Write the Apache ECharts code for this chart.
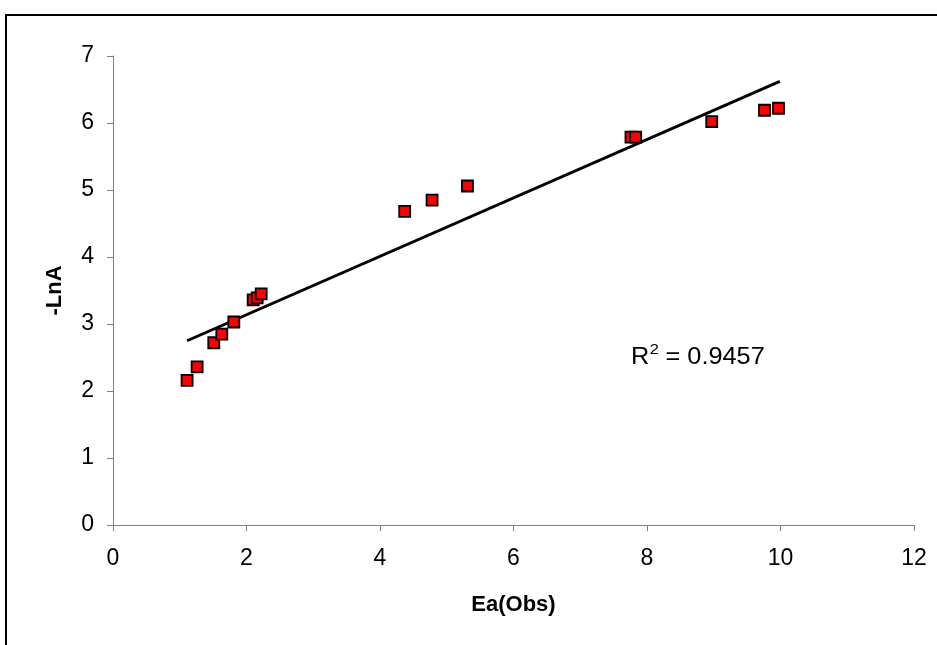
<!DOCTYPE html>
<html><head><meta charset="utf-8">
<script src="https://cdn.jsdelivr.net/npm/echarts@6/dist/echarts.min.js"></script>
<style>html,body{margin:0;padding:0;background:#fff}#c{width:937px;height:645px}</style>
</head><body><div id="c"></div>
<script>
const obsX = [1.11, 1.26, 1.51, 1.63, 1.81, 2.10, 2.16, 2.22, 4.37, 4.78, 5.31, 7.76, 7.83, 8.97, 9.76, 9.97];
const lnA  = [2.16, 2.36, 2.72, 2.85, 3.03, 3.36, 3.39, 3.45, 4.68, 4.85, 5.06, 5.79, 5.79, 6.02, 6.19, 6.22];
const trendX = [1.11, 9.99];
const trendY = [2.75, 6.62];
const xTicks = [0, 2, 4, 6, 8, 10, 12];
const yTicks = [0, 1, 2, 3, 4, 5, 6, 7];
const r2Text = '0.9457';

const chart = echarts.init(document.getElementById('c'));
const font = '"Liberation Sans", Arial, sans-serif';
chart.setOption({
  animation: false,
  backgroundColor: '#fff',
  grid: { left: 113, top: 56, width: 801, height: 469, containLabel: false },
  xAxis: {
    type: 'value', min: xTicks[0], max: xTicks[xTicks.length-1], interval: 2,
    name: 'Ea(Obs)', nameLocation: 'middle', nameGap: 69,
    nameTextStyle: { fontFamily: font, fontWeight: 'bold', fontSize: 22, color: '#000' },
    axisLine: { show: true, lineStyle: { color: '#808080', width: 1 } },
    axisTick: { show: true, inside: false, length: 6, lineStyle: { color: '#808080' } },
    axisLabel: { fontFamily: font, fontSize: 23, color: '#000', margin: 22 },
    splitLine: { show: false }
  },
  yAxis: {
    type: 'value', min: yTicks[0], max: yTicks[yTicks.length-1], interval: 1,
    name: '-LnA', nameLocation: 'middle', nameGap: 47, nameRotate: 90,
    nameTextStyle: { fontFamily: font, fontWeight: 'bold', fontSize: 22, color: '#000' },
    axisLine: { show: true, lineStyle: { color: '#808080', width: 1 } },
    axisTick: { show: true, inside: false, length: 6, lineStyle: { color: '#808080' } },
    axisLabel: { fontFamily: font, fontSize: 23, color: '#000', margin: 19 },
    splitLine: { show: false }
  },
  graphic: [
    { type: 'rect', shape: { x: 6, y: 15, width: 1200, height: 1000 }, style: { fill: 'none', stroke: '#000', lineWidth: 2 }, silent: true, z: 100 },
    { type: 'group', x: 631, y: 0, scaleX: 1.1, children: [
      { type: 'text', x: 0, y: 369, style: { text: 'R', fontFamily: font, fontSize: 23, fill: '#000', verticalAlign: 'bottom' } },
      { type: 'text', x: 17, y: 357, style: { text: '2', fontFamily: font, fontSize: 15, fill: '#000', verticalAlign: 'bottom' } },
      { type: 'text', x: 25, y: 369, style: { text: ' = ' + r2Text, fontFamily: font, fontSize: 23, fill: '#000', verticalAlign: 'bottom' } }
    ] }
  ],
  series: [
    {
      type: 'line', data: trendX.map((x, i) => [x, trendY[i]]),
      showSymbol: false, symbol: 'none', lineStyle: { color: '#000', width: 3 }, z: 2
    },
    {
      type: 'scatter', data: obsX.map((x, i) => [x, lnA[i]]),
      symbol: 'rect', symbolSize: 11,
      itemStyle: { color: '#ff0000', borderColor: '#000', borderWidth: 1.8, opacity: 1 }, z: 3
    }
  ]
});
</script></body></html>
